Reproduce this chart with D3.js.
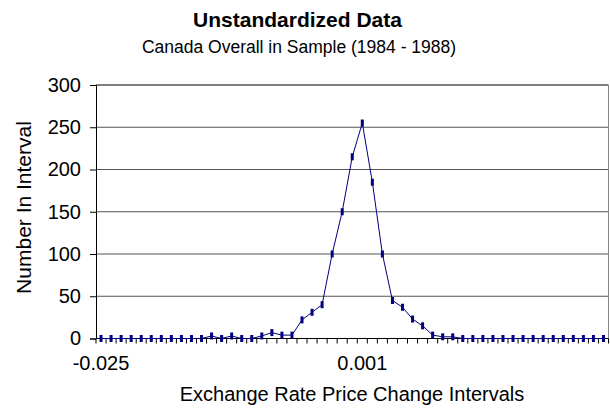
<!DOCTYPE html>
<html><head><meta charset="utf-8">
<script src="https://cdn.jsdelivr.net/npm/d3@7"></script>
<style>body{margin:0;background:#fff}svg{display:block}text{font-family:"Liberation Sans",Arial,sans-serif;fill:#000}</style>
</head><body><svg id="c" width="610" height="409"></svg>
<script>
const categories = [-0.025,-0.024,-0.023,-0.022,-0.021,-0.020,-0.019,-0.018,-0.017,-0.016,-0.015,-0.014,-0.013,-0.012,-0.011,-0.010,-0.009,-0.008,-0.007,-0.006,-0.005,-0.004,-0.003,-0.002,-0.001,0.000,0.001,0.002,0.003,0.004,0.005,0.006,0.007,0.008,0.009,0.010,0.011,0.012,0.013,0.014,0.015,0.016,0.017,0.018,0.019,0.020,0.021,0.022,0.023,0.024,0.025];
const counts = [0,0,0,0,0,0,0,0,0,0,0,3,0,3,0,0,3,7,4,4,22,31,40,100,150,215,255,185,100,45,37,23,15,4,2,2,0,0,0,0,0,0,0,0,0,0,0,0,0,0,0];
const xTickLabels = ["-0.025","0.001"];
const yTicks = [0,50,100,150,200,250,300];
const title = "Unstandardized Data";
const subtitle = "Canada Overall in Sample (1984 - 1988)";
const xTitle = "Exchange Rate Price Change Intervals";
const yTitle = "Number In Interval";

const svg = d3.select("#c");
const L = 96, R = 608.5, T = 85, B = 338.5;
const keys = categories.map(d => d3.format(".3f")(d));
const x = d3.scaleBand().domain(keys).range([L, R]);
const y = d3.scaleLinear().domain([0, 300]).range([B, T]);
const cx = k => x(k) + x.bandwidth() / 2;

// gridlines
svg.append("g").selectAll("line").data(yTicks.filter(v => v > 0)).join("line")
  .attr("x1", L).attr("x2", R).attr("y1", d => y(d)).attr("y2", d => y(d))
  .attr("stroke", d => d === 300 ? "#000" : "#555").attr("stroke-width", 1);
// right border
svg.append("line").attr("x1", R).attr("x2", R).attr("y1", T).attr("y2", B).attr("stroke", "#888");

// y axis
const yAxis = d3.axisLeft(y).tickValues(yTicks).tickSize(6).tickPadding(9);
const gy = svg.append("g").attr("transform", `translate(${L},0)`).call(yAxis);
gy.select(".domain").attr("stroke", "#000");
gy.selectAll(".tick line").attr("stroke", "#000");
gy.selectAll(".tick text").attr("font-size", 20).attr("font-family", "Liberation Sans, Arial, sans-serif").attr("fill", "#000");

// x axis: ticks at band boundaries
const bounds = keys.map(k => x(k)).concat([R]);
svg.append("g").selectAll("line").data(bounds).join("line")
  .attr("x1", d => d).attr("x2", d => d).attr("y1", B).attr("y2", B + 5).attr("stroke", "#000");
svg.append("line").attr("x1", L).attr("x2", R).attr("y1", B).attr("y2", B).attr("stroke", "#000");
svg.append("g").selectAll("text").data(xTickLabels).join("text")
  .attr("x", d => cx(d3.format(".3f")(+d))).attr("y", 370)
  .attr("text-anchor", "middle").attr("font-size", 20).text(d => d);

// line
const line = d3.line().x((d, i) => cx(keys[i])).y(d => y(d));
svg.append("path").datum(counts).attr("d", line).attr("fill", "none").attr("stroke", "#000080").attr("stroke-width", 1);
svg.append("g").selectAll("rect").data(counts).join("rect")
  .attr("x", (d, i) => cx(keys[i]) - 1.5).attr("y", d => y(d) - 3.5)
  .attr("width", 3).attr("height", 7).attr("fill", "#000080");

// titles
svg.append("text").attr("x", 297.5).attr("y", 27).attr("text-anchor", "middle")
  .attr("font-size", 21).attr("font-weight", "bold").text(title);
svg.append("text").attr("x", 299).attr("y", 53).attr("text-anchor", "middle")
  .attr("font-size", 17.5).text(subtitle);
svg.append("text").attr("x", 352).attr("y", 401).attr("text-anchor", "middle")
  .attr("font-size", 20).text(xTitle);
svg.append("text").attr("transform", "translate(31,207.5) rotate(-90)").attr("text-anchor", "middle")
  .attr("font-size", 21).text(yTitle);
</script></body></html>
